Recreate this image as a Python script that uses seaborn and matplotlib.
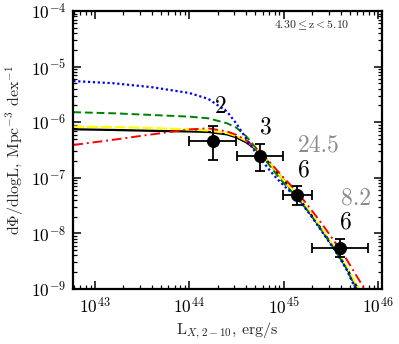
import numpy as np
import pandas as pd
import matplotlib
matplotlib.use("Agg")
import matplotlib.pyplot as plt
import seaborn as sns

# ---- data (log10 values) ----
logL_grid = [42.77, 43.2, 43.6, 44.0, 44.2, 44.4, 44.5, 44.6, 44.7, 44.8, 44.9,
             45.0, 45.14, 45.28, 45.41, 45.54, 45.66, 45.77, 45.9]
blue_logphi = [-5.26, -5.30, -5.37, -5.475, -5.58, -5.81, -6.03, -6.29, -6.54, -6.757,
               -6.964, -7.14, -7.36, -7.66, -7.98, -8.30, -8.63, -9.03, -9.4]
green_logphi = [-5.82, -5.84, -5.87, -5.90, -5.93, -6.02, -6.10, -6.25, -6.45, -6.67,
                -6.89, -7.10, -7.35, -7.65, -7.97, -8.29, -8.62, -9.01, -9.4]
black_logphi = [-6.128, -6.14, -6.155, -6.167, -6.175, -6.22, -6.275, -6.36, -6.48, -6.65,
                -6.84, -7.04, -7.33, -7.64, -7.95, -8.28, -8.60, -8.95, -9.3]
yellow_logphi = [-6.08, -6.09, -6.105, -6.13, -6.15, -6.195, -6.25, -6.33, -6.46, -6.64,
                 -6.84, -7.04, -7.31, -7.62, -7.93, -8.26, -8.58, -8.92, -9.28]
red_logphi = [-6.41, -6.315, -6.22, -6.13, -6.11, -6.167, -6.23, -6.32, -6.464, -6.62,
              -6.81, -7.00, -7.25, -7.55, -7.84, -8.15, -8.45, -8.76, -9.12]

pt_logL = [44.248, 44.747, 45.145, 45.598]
pt_logL_lo = [43.997, 44.503, 44.997, 45.298]
pt_logL_hi = [44.495, 44.990, 45.304, 45.898]
pt_logphi = [-6.338, -6.613, -7.304, -8.268]
pt_logphi_hi = [-6.063, -6.392, -7.142, -8.106]
pt_logphi_lo = [-6.680, -6.878, -7.484, -8.430]

count_labels = ["2", "3", "6", "6"]
count_logL = [44.333, 44.813, 45.209, 45.662]
count_logphi = [-5.732, -6.099, -6.86, -7.80]
gray_labels = ["24.5", "8.2"]
gray_logL = [45.375, 45.768]
gray_logphi = [-6.423, -7.369]
z_label = r"4.30$\leq$z$<$5.10"

# ---- style ----
sns.set_style("ticks")
plt.rcParams["font.family"] = ["cmr10", "DejaVu Serif"]
plt.rcParams["mathtext.fontset"] = "cm"
plt.rcParams["axes.formatter.use_mathtext"] = True
plt.rcParams["axes.unicode_minus"] = False

fig = plt.figure(figsize=(3.99, 3.44), dpi=100)
ax = fig.add_axes([0.183, 0.160, 0.774, 0.808])

L = 10 ** np.array(logL_grid)
curves = [
    ("black", black_logphi, "-", 1.6),
    ("yellow", yellow_logphi, (0, (5, 1.2)), 1.6),
    ("green", green_logphi, (0, (4, 2)), 1.4),
    ("red", red_logphi, (0, (5, 2, 1, 2)), 1.4),
    ("blue", blue_logphi, (0, (1, 1.2)), 1.6),
]
for color, vals, ls, lw in curves:
    df = pd.DataFrame({"L": L, "phi": 10 ** np.array(vals)})
    sns.lineplot(data=df, x="L", y="phi", color=color, linestyle=ls, linewidth=lw,
                 ax=ax, sort=False, estimator=None)

x = 10 ** np.array(pt_logL)
y = 10 ** np.array(pt_logphi)
xerr = [x - 10 ** np.array(pt_logL_lo), 10 ** np.array(pt_logL_hi) - x]
yerr = [y - 10 ** np.array(pt_logphi_lo), 10 ** np.array(pt_logphi_hi) - y]
ax.errorbar(x, y, xerr=xerr, yerr=yerr, fmt="none", ecolor="black", elinewidth=1.3,
            capsize=3.5, capthick=1.3, zorder=5)
sns.scatterplot(x=x, y=y, color="black", s=75, edgecolor="black", ax=ax, zorder=6)

for t, lx, ly in zip(count_labels, count_logL, count_logphi):
    ax.text(10 ** lx, 10 ** ly, t, fontsize=17, color="black", ha="center", va="center")
for t, lx, ly in zip(gray_labels, gray_logL, gray_logphi):
    ax.text(10 ** lx, 10 ** ly, t, fontsize=17, color="#8c8c8c", ha="center", va="center")
ax.text(0.772, 0.95, z_label, transform=ax.transAxes, fontsize=8.5, ha="center", va="center")

ax.set_xscale("log")
ax.set_yscale("log")
ax.set_xlim(10 ** 42.767, 10 ** 46.04)
ax.set_ylim(1e-9, 1e-4)
ax.set_xticks([1e43, 1e44, 1e45, 1e46])
ax.set_yticks([1e-9, 1e-8, 1e-7, 1e-6, 1e-5, 1e-4])
ax.xaxis.set_minor_locator(matplotlib.ticker.LogLocator(base=10, subs=np.arange(2, 10), numticks=20))
ax.yaxis.set_minor_locator(matplotlib.ticker.LogLocator(base=10, subs=np.arange(2, 10), numticks=20))
ax.xaxis.set_minor_formatter(matplotlib.ticker.NullFormatter())
ax.yaxis.set_minor_formatter(matplotlib.ticker.NullFormatter())
ax.tick_params(which="both", direction="in", top=True, right=True, colors="black",
               labelsize=12.5)
ax.tick_params(which="major", length=6, width=1.1, pad=5)
ax.tick_params(which="minor", length=3, width=0.9)
for s in ax.spines.values():
    s.set_linewidth(1.6)
    s.set_color("black")

ax.set_xlabel(r"L$_{X,2-10}$, erg/s", fontsize=11.5, labelpad=3)
ax.set_ylabel(r"d$\Phi$/dlogL, Mpc$^{-3}$ dex$^{-1}$", fontsize=11.5, labelpad=3)

fig.savefig("out.png", dpi=100)
